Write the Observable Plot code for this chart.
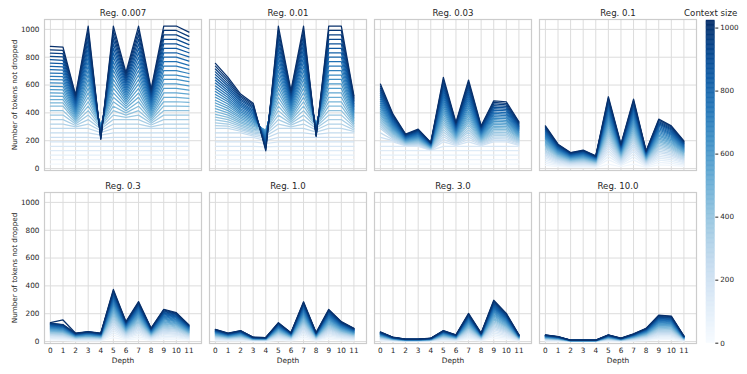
<!DOCTYPE html>
<html><head><meta charset="utf-8">
<script src="https://cdn.jsdelivr.net/npm/d3@7"></script>
<script src="https://cdn.jsdelivr.net/npm/@observablehq/plot@0.6"></script>
<style>
body{margin:0;background:#fff;}
#wrap{position:relative;width:747px;height:374px;font-family:"DejaVu Sans",sans-serif;}
#main,#cbar{position:absolute;top:0;}
#main{left:0px}
#cbar{left:680px}
</style></head><body><div id="wrap"><div id="main"></div><div id="cbar"></div></div>
<script>
const regs = ["0.007","0.01","0.03","0.1","0.3","1.0","3.0","10.0"];
const depths = [0,1,2,3,4,5,6,7,8,9,10,11];
const contextSizes = [32,64,96,128,160,192,224,256,288,320,352,384,416,448,480,512,544,576,608,640,672,704,736,768,800,832,864,896,928,960,992,1024];
const yTicks = [0,200,400,600,800,1000];
const colorTicks = [0,200,400,600,800,1000];

// rows = depth 0..11, columns = context sizes above
const tokensReg0007 = [
[32,64,96,128,160,192,224,256,288,320,352,384,416,448,472,496,520,543,567,591,615,639,663,686,710,734,758,782,806,829,853,877],
[32,64,96,128,160,192,224,256,288,320,352,384,416,448,472,495,519,542,566,589,613,637,660,684,707,731,754,778,802,825,849,872],
[32,64,96,128,160,192,224,256,288,299,309,320,330,341,351,362,372,383,393,404,414,425,435,446,456,467,477,488,498,509,520,530],
[32,64,96,128,160,192,224,256,288,320,352,384,416,448,480,512,544,576,608,640,672,704,736,768,800,832,864,896,928,960,992,1024],
[32,64,96,128,160,192,218,240,258,272,284,294,302,308,312,314,313,310,305,299,292,284,276,268,260,252,244,236,229,222,216,210],
[32,64,96,128,160,192,224,256,288,320,352,384,416,448,480,512,544,576,608,640,672,704,736,768,800,832,864,896,928,960,992,1024],
[32,64,96,128,160,192,224,256,288,320,352,368,384,400,416,433,449,465,481,497,513,529,545,561,577,594,610,626,642,658,674,690],
[32,64,96,128,160,192,224,256,288,320,352,384,416,448,480,512,544,576,608,640,672,704,736,768,800,832,864,896,928,960,992,1024],
[32,64,96,128,160,192,224,256,288,300,313,325,337,349,362,374,386,398,411,423,435,447,460,472,484,496,509,521,533,545,558,570],
[32,64,96,128,160,192,224,256,288,320,352,384,416,448,480,512,544,576,608,640,672,704,736,768,800,832,864,896,928,960,992,1024],
[32,64,96,128,160,192,224,256,288,320,352,384,416,448,480,512,544,576,608,640,672,704,736,768,800,832,864,896,928,960,992,1024],
[32,64,96,128,160,192,224,256,288,320,352,384,416,446,475,505,535,564,594,624,653,683,713,742,772,802,832,861,891,921,950,980]
];
const tokensReg001 = [
[32,64,96,128,160,192,224,256,288,308,329,349,369,390,410,430,451,471,491,512,532,553,573,593,614,634,654,675,695,715,736,756],
[32,64,96,128,160,192,224,256,288,304,320,336,352,368,384,400,416,432,448,464,480,495,511,527,543,559,575,591,607,623,639,655],
[32,64,96,128,160,192,224,256,268,279,291,303,314,326,337,349,361,372,384,396,407,419,430,442,454,465,477,489,500,512,523,535],
[32,64,96,128,160,192,224,234,244,254,263,273,283,293,303,313,322,332,342,352,362,372,381,391,401,411,421,431,441,450,460,470],
[32,64,96,128,155,180,200,218,233,246,256,264,270,274,276,276,274,270,264,257,249,240,230,219,208,197,185,173,161,150,138,127],
[32,64,96,128,160,192,224,256,288,320,352,384,416,448,480,512,544,576,608,640,672,704,736,768,800,832,864,896,928,960,992,1024],
[32,64,96,128,160,192,224,256,288,300,312,324,335,347,359,371,383,394,406,418,430,442,454,465,477,489,501,513,525,536,548,560],
[32,64,96,128,160,192,224,256,288,320,352,384,416,448,480,512,544,576,608,640,672,704,736,768,800,832,864,896,928,960,992,1024],
[32,64,96,128,160,192,224,245,262,277,290,300,308,314,318,320,320,318,315,310,304,297,290,282,274,266,258,250,244,238,234,230],
[32,64,96,128,160,192,224,256,288,320,352,384,416,448,480,512,544,576,608,640,672,704,736,768,800,832,864,896,928,960,992,1024],
[32,64,96,128,160,192,224,256,288,320,352,384,416,448,480,512,544,576,608,640,672,704,736,768,800,832,864,896,928,960,992,1024],
[32,64,96,128,160,192,224,256,267,278,289,301,312,323,334,345,356,367,378,390,401,412,423,434,445,456,467,479,490,501,512,523]
];
const tokensReg003 = [
[32,64,96,128,160,192,224,256,288,302,316,330,343,357,371,385,399,413,427,441,454,468,482,496,510,524,538,552,565,579,593,607],
[32,64,96,128,160,192,200,207,215,223,230,238,246,253,261,269,276,284,291,299,307,314,322,330,337,345,353,360,368,376,383,391],
[32,64,96,128,160,163,166,170,173,176,179,183,186,189,192,195,199,202,205,208,212,215,218,221,224,228,231,234,237,241,244,247],
[32,64,96,128,160,165,169,174,178,183,187,192,196,201,206,210,215,219,224,228,233,237,242,247,251,256,260,265,269,274,278,283],
[32,64,96,128,130,132,134,136,139,141,143,145,147,149,151,153,155,158,160,162,164,166,168,170,172,174,177,179,181,183,185,187],
[32,64,96,128,160,192,210,228,245,263,281,299,317,334,352,370,388,406,423,441,459,477,495,513,530,548,566,584,602,619,637,655],
[32,64,96,128,160,166,173,179,185,192,198,204,211,217,223,230,236,242,249,255,261,268,274,280,287,293,299,306,312,318,325,331],
[32,64,96,128,160,192,209,226,243,260,277,294,312,329,346,363,380,397,414,431,448,465,482,499,516,534,551,568,585,602,619,636],
[32,64,96,128,160,165,171,176,182,187,193,198,204,209,214,220,225,231,236,242,247,253,258,263,269,274,280,285,291,296,302,307],
[32,64,96,128,160,192,203,215,226,237,249,260,271,283,294,305,317,328,340,351,362,374,385,396,408,419,430,442,453,464,476,487],
[32,64,96,128,160,192,203,214,225,236,247,258,270,281,292,303,314,325,336,347,358,369,380,391,402,414,425,436,447,458,469,480],
[32,64,96,128,160,167,173,180,186,193,199,206,212,219,225,232,238,245,251,258,264,271,277,284,290,297,303,310,316,323,330,336]
];
const tokensReg01 = [
[23,38,52,65,76,87,98,109,119,128,138,147,156,165,174,183,191,199,208,216,224,232,240,247,255,263,270,278,285,293,300,307],
[13,22,30,37,44,50,56,62,68,73,79,84,89,94,99,104,109,114,118,123,128,132,137,141,145,150,154,158,163,167,171,175],
[9,14,19,24,29,33,37,41,44,48,52,55,59,62,65,68,72,75,78,81,84,87,90,93,96,98,101,104,107,110,112,115],
[10,17,22,28,33,38,42,47,51,55,59,63,67,71,75,78,82,86,89,93,96,100,103,106,110,113,116,119,123,126,129,132],
[7,11,15,19,23,26,29,32,35,38,41,44,46,49,52,54,57,59,62,64,66,69,71,73,76,78,80,82,85,87,89,91],
[32,64,87,108,128,147,165,182,199,216,232,247,263,278,292,307,321,335,349,363,376,390,403,416,429,442,454,467,479,492,504,516],
[13,22,30,37,44,50,56,62,68,73,79,84,89,94,99,104,109,114,118,123,128,132,137,141,145,150,154,158,163,167,171,175],
[32,62,85,105,124,142,160,176,193,209,224,239,254,268,283,297,311,324,338,351,364,377,390,402,415,427,439,451,464,475,487,499],
[9,16,22,27,32,36,41,45,49,53,57,61,65,68,72,76,79,82,86,89,93,96,99,102,106,109,112,115,118,121,124,127],
[26,44,60,75,88,101,114,126,137,148,159,170,181,191,201,211,221,231,240,250,259,268,277,286,295,304,313,321,330,338,347,355],
[23,38,52,65,76,87,98,109,119,128,138,147,156,165,174,183,191,199,208,216,224,232,240,247,255,263,270,278,285,293,300,307],
[15,25,34,42,49,57,64,70,77,83,89,95,101,107,113,118,124,129,135,140,145,150,155,160,165,170,175,180,185,190,194,199]
];
const tokensReg03 = [
[10,17,23,29,34,39,44,48,53,57,61,65,69,73,77,81,85,88,92,96,99,103,106,110,113,116,120,123,126,130,133,136],
[9,16,21,26,31,36,40,44,48,52,56,60,64,67,71,74,78,81,85,88,91,94,98,101,104,107,110,113,116,119,122,155],
[4,8,10,13,15,17,19,21,23,25,27,29,31,32,34,36,37,39,41,42,44,45,47,48,50,51,53,54,56,57,59,60],
[5,9,12,15,18,21,23,25,28,30,32,35,37,39,41,43,45,47,49,51,53,54,56,58,60,62,63,65,67,69,70,72],
[4,8,10,13,15,17,19,21,23,25,27,29,31,32,34,36,37,39,41,42,44,45,47,48,50,51,53,54,56,57,59,60],
[28,47,64,79,93,107,120,133,145,157,168,180,191,202,213,223,233,244,254,264,273,283,293,302,312,321,330,339,348,357,366,375],
[11,18,24,30,36,41,46,51,55,60,64,69,73,77,81,85,89,93,97,101,104,108,112,115,119,122,126,129,133,136,140,143],
[21,36,49,60,71,82,92,101,111,120,129,138,146,154,163,171,179,186,194,202,209,217,224,231,239,246,253,260,267,273,280,287],
[7,12,16,20,24,27,31,34,37,40,43,46,49,52,54,57,60,62,65,67,70,72,75,77,80,82,85,87,89,91,94,96],
[17,29,39,49,58,66,74,82,90,97,104,111,118,125,131,138,144,151,157,163,169,175,181,187,193,199,204,210,216,221,227,232],
[16,26,35,44,52,59,67,74,80,87,93,100,106,112,118,124,129,135,141,146,152,157,162,168,173,178,183,188,193,198,203,208],
[9,15,20,25,30,34,38,42,46,50,54,58,61,65,68,71,75,78,81,84,88,91,94,97,100,103,106,109,111,114,117,120]
];
const tokensReg1 = [
[7,11,15,18,22,25,28,31,34,37,40,42,45,47,50,52,55,57,60,62,64,66,69,71,73,75,77,80,82,84,86,88],
[4,8,10,13,15,17,19,21,23,25,27,29,31,32,34,36,37,39,41,42,44,45,47,48,50,51,53,54,56,57,59,60],
[6,10,13,17,20,23,25,28,31,33,35,38,40,43,45,47,49,51,53,56,58,60,62,64,66,68,70,71,73,75,77,79],
[2,4,5,7,8,9,10,11,12,13,14,15,16,17,18,18,19,20,21,22,23,23,24,25,26,27,27,28,29,30,30,31],
[2,4,5,6,7,8,9,10,11,12,13,14,15,16,16,17,18,19,20,20,21,22,23,23,24,25,26,26,27,28,28,29],
[10,17,23,29,34,39,44,48,53,57,61,65,69,73,77,81,85,88,92,96,99,103,106,110,113,116,120,123,126,130,133,136],
[5,8,11,13,16,18,20,23,25,27,29,31,33,34,36,38,40,42,43,45,47,48,50,52,53,55,56,58,59,61,62,64],
[21,36,49,60,71,82,92,101,111,120,129,138,146,154,163,171,179,186,194,202,209,217,224,231,239,246,253,260,267,273,280,286],
[5,8,11,13,16,18,20,23,25,27,29,31,33,34,36,38,40,42,43,45,47,48,50,52,53,55,56,58,59,61,62,64],
[17,29,39,49,58,66,74,82,90,97,104,111,118,125,131,138,144,151,157,163,169,175,181,187,193,199,204,210,216,221,227,231],
[11,18,24,30,36,41,46,51,55,60,64,69,73,77,81,85,89,93,97,101,104,108,112,115,119,122,126,129,133,136,140,143],
[7,12,16,20,24,27,31,34,37,40,43,46,49,52,54,57,60,62,65,67,70,72,75,77,80,82,85,87,89,91,94,95]
];
const tokensReg3 = [
[5,9,12,15,17,20,22,24,27,29,31,33,35,37,39,41,43,45,47,49,50,52,54,56,57,59,61,62,64,66,67,69],
[2,4,5,7,8,9,10,11,12,13,14,15,16,17,18,18,19,20,21,22,23,23,24,25,26,27,27,28,29,30,30,31],
[1,2,3,4,4,5,5,6,7,7,8,8,9,9,10,10,11,11,12,12,12,13,13,14,14,15,15,15,16,16,17,17],
[1,2,3,4,4,5,5,6,7,7,8,8,9,9,10,10,11,11,12,12,12,13,13,14,14,15,15,15,16,16,17,17],
[2,3,4,5,6,7,8,8,9,10,11,12,12,13,14,14,15,16,16,17,17,18,19,19,20,21,21,22,22,23,23,24],
[6,10,13,17,20,23,25,28,31,33,35,38,40,43,45,47,49,51,53,56,58,60,62,64,66,68,70,71,73,75,77,79],
[4,6,8,10,12,14,15,17,19,20,22,23,24,26,27,29,30,31,32,34,35,36,37,39,40,41,42,43,45,46,47,48],
[15,25,34,42,50,58,65,71,78,84,91,97,103,109,114,120,126,131,137,142,147,153,158,163,168,173,178,183,188,192,197,202],
[4,8,10,13,15,17,19,21,23,25,27,29,31,32,34,36,37,39,41,42,44,45,47,48,50,51,53,54,56,57,59,60],
[22,37,50,62,74,85,95,105,115,124,133,142,151,160,168,177,185,193,201,209,217,224,232,239,247,254,261,269,276,283,290,297],
[15,25,34,42,50,58,65,71,78,84,91,97,103,109,114,120,126,131,137,142,147,153,158,163,168,173,178,183,188,192,197,202],
[4,6,8,10,12,14,15,17,19,20,22,23,24,26,27,29,30,31,32,34,35,36,37,39,40,41,42,43,45,46,47,48]
];
const tokensReg10 = [
[4,6,8,10,12,14,15,17,19,20,22,23,24,26,27,29,30,31,32,34,35,36,37,39,40,41,42,43,45,46,47,48],
[3,5,6,8,9,10,12,13,14,15,16,17,18,19,20,21,22,23,24,25,26,27,28,29,30,31,32,33,33,34,35,36],
[0.7,1.3,1.7,2.1,2.5,2.9,3.2,3.5,3.9,4.2,4.5,4.8,5.1,5.4,5.7,5.9,6.2,6.5,6.8,7,7.3,7.6,7.8,8.1,8.3,8.6,8.8,9,9.3,9.5,9.8,10],
[0.7,1.3,1.7,2.1,2.5,2.9,3.2,3.5,3.9,4.2,4.5,4.8,5.1,5.4,5.7,5.9,6.2,6.5,6.8,7,7.3,7.6,7.8,8.1,8.3,8.6,8.8,9,9.3,9.5,9.8,10],
[0.7,1.3,1.7,2.1,2.5,2.9,3.2,3.5,3.9,4.2,4.5,4.8,5.1,5.4,5.7,5.9,6.2,6.5,6.8,7,7.3,7.6,7.8,8.1,8.3,8.6,8.8,9,9.3,9.5,9.8,10],
[4,6,8,10,12,14,15,17,19,20,22,23,24,26,27,29,30,31,32,34,35,36,37,39,40,41,42,43,45,46,47,48],
[2,3,4,5,6,7,8,8,9,10,11,12,12,13,14,14,15,16,16,17,17,18,19,19,20,21,21,22,22,23,23,24],
[4,7,9,12,14,16,18,19,21,23,25,26,28,30,31,33,34,36,37,39,40,42,43,44,46,47,48,50,51,52,54,55],
[7,12,16,20,24,27,31,34,37,40,43,46,49,52,54,57,60,62,65,67,70,72,75,77,80,82,85,87,89,91,94,95],
[14,24,32,40,47,54,61,67,73,79,85,91,97,102,108,113,118,123,129,134,139,143,148,153,158,163,167,172,176,181,186,190],
[14,23,31,39,46,52,59,65,71,77,82,88,93,98,104,109,114,119,124,129,133,138,143,148,152,157,161,166,170,174,179,183],
[3,5,7,8,10,11,13,14,15,17,18,19,20,22,23,24,25,26,27,28,29,30,31,32,33,34,35,36,37,38,39,40]
];

const tables = [tokensReg0007, tokensReg001, tokensReg003, tokensReg01, tokensReg03, tokensReg1, tokensReg3, tokensReg10];

const rows = [];
contextSizes.forEach((c, j) => {
  tables.forEach((t, i) => {
    depths.forEach((d, k) => {
      rows.push({col: i % 4, row: Math.floor(i / 4), depth: d, context: c, value: t[k][j]});
    });
  });
});
const facets = regs.map((r, i) => ({reg: r, col: i % 4, row: Math.floor(i / 4)}));
const ink = "#262626";
const fmt = d3.format("d");

const main = Plot.plot({
  width: 747, height: 374,
  marginLeft: 42.3, marginRight: 49, marginTop: 19, marginBottom: 30.5,
  style: {fontFamily: "DejaVu Sans", fontSize: "7.3px", color: ink, background: "white"},
  fx: {domain: [0,1,2,3], paddingInner: 8/166, paddingOuter: 0, axis: null},
  fy: {domain: [0,1], paddingInner: 0.13, paddingOuter: 0, axis: null},
  x: {domain: [-0.47, 12], ticks: depths, tickSize: 0, tickPadding: 4, label: null, tickFormat: fmt},
  y: {domain: [-14, 1071], ticks: yTicks, tickSize: 0, tickPadding: 5, label: null, tickFormat: fmt},
  color: {type: "linear", scheme: "blues", domain: [0, 1024]},
  marks: [
    Plot.gridX(depths, {stroke: "#dcdcdc", strokeOpacity: 1}),
    Plot.gridY(yTicks, {stroke: "#dcdcdc", strokeOpacity: 1}),
    Plot.frame({stroke: "#cccccc", strokeWidth: 1.2}),
    Plot.line(rows, {fx: "col", fy: "row", x: "depth", y: "value", z: "context", stroke: "context", strokeWidth: 1.25}),
    Plot.text(facets, {fx: "col", fy: "row", frameAnchor: "top", dy: -6.5, text: d => "Reg. " + d.reg, fontSize: 8.6, fill: ink, textAnchor: "middle", lineAnchor: "middle"}),
    Plot.text(facets.filter(d => d.row === 1), {fx: "col", fy: "row", frameAnchor: "bottom", dy: 17.5, text: () => "Depth", fontSize: 7.4, fill: ink, textAnchor: "middle", lineAnchor: "middle"}),
    Plot.text(facets.filter(d => d.col === 0), {fx: "col", fy: "row", frameAnchor: "left", dx: -30, rotate: -90, text: () => "Number of tokens not dropped", fontSize: 7.2, fill: ink, textAnchor: "middle", lineAnchor: "middle"})
  ]
});
document.getElementById("main").appendChild(main);

const ramp = d3.range(0, 1024, 4);
const cbar = Plot.plot({
  width: 67, height: 374,
  marginLeft: 26, marginRight: 32.7, marginTop: 20, marginBottom: 31.3,
  style: {fontFamily: "DejaVu Sans", fontSize: "7.2px", color: ink, background: "transparent"},
  x: {domain: [0, 1], axis: null},
  y: {domain: [0, 1024], axis: "right", ticks: colorTicks, tickSize: 3, tickPadding: 2.5, label: null, tickFormat: fmt},
  color: {type: "linear", scheme: "blues", domain: [0, 1024]},
  marks: [
    Plot.rect(ramp, {x1: () => 0, x2: () => 1, y1: d => d, y2: d => Math.min(1024, d + 4), fill: d => d + 2, stroke: d => d + 2, strokeWidth: 0.5}),
    Plot.text(["Context size"], {frameAnchor: "top", dy: -7.5, text: d => d, fontSize: 8.6, fill: ink, textAnchor: "middle", lineAnchor: "middle"})
  ]
});
document.getElementById("cbar").appendChild(cbar);
</script></body></html>
